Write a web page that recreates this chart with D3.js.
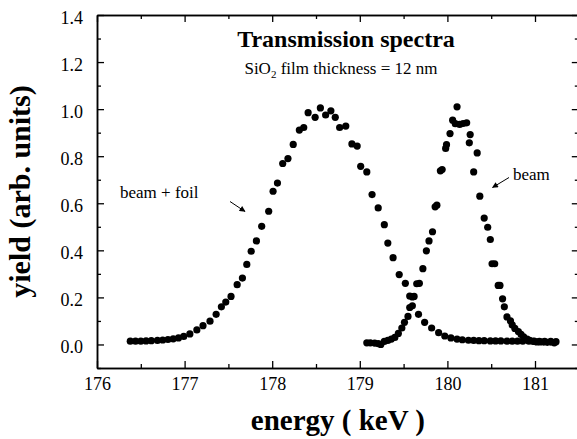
<!DOCTYPE html>
<html>
<head>
<meta charset="utf-8">
<script src="https://cdn.jsdelivr.net/npm/d3@7"></script>
<style>
  html, body { margin: 0; padding: 0; background: #fff; }
  svg { display: block; }
  text { font-family: "Liberation Serif", "Tinos", "Times New Roman", Times, "Nimbus Roman", "FreeSerif", "DejaVu Serif", "Noto Serif", serif; fill: #000; }
</style>
</head>
<body>
<svg id="chart" width="577" height="439"></svg>
<script>
// ---- data ----
const foilEnergy = [176.38,176.44,176.50,176.56,176.62,176.69,176.75,176.81,176.87,176.93,
  176.99,177.06,177.14,177.21,177.29,177.36,177.42,177.47,177.53,177.60,
  177.66,177.71,177.76,177.82,177.88,177.96,178.01,178.06,178.12,178.18,
  178.24,178.31,178.36,178.41,178.49,178.55,178.61,178.67,178.72,178.77,
  178.84,178.91,178.97,179.01,179.08,179.14,179.21,179.28,179.32,179.38,
  179.45,179.52,179.57,179.60,179.67,179.74,179.82,179.90,179.97,180.04,
  180.11,180.17,180.24,180.30,180.36,180.42,180.49,180.55,180.61,180.68,
  180.74,180.80,180.86,180.93,180.99,181.05,181.11,181.18,181.24];
const foilYield = [0.014,0.014,0.014,0.015,0.016,0.017,0.019,0.021,0.024,0.028,
  0.034,0.045,0.062,0.080,0.099,0.128,0.160,0.180,0.204,0.254,
  0.282,0.340,0.396,0.440,0.502,0.566,0.651,0.686,0.769,0.790,
  0.850,0.911,0.922,0.985,0.965,1.005,0.975,0.993,0.965,0.922,
  0.928,0.852,0.843,0.757,0.733,0.637,0.580,0.509,0.431,0.369,
  0.297,0.260,0.206,0.164,0.128,0.094,0.070,0.050,0.036,0.028,
  0.023,0.020,0.018,0.017,0.016,0.016,0.015,0.015,0.015,0.014,
  0.014,0.014,0.014,0.014,0.014,0.013,0.013,0.013,0.012];

const beamEnergy = [179.08,179.12,179.17,179.21,179.24,179.28,179.32,179.36,179.40,179.44,
  179.48,179.51,179.55,179.57,179.60,179.62,179.65,179.68,179.72,179.76,
  179.79,179.83,179.86,179.88,179.92,179.94,179.98,179.99,180.03,180.06,
  180.09,180.11,180.14,180.18,180.22,180.25,180.26,180.30,180.34,180.37,
  180.42,180.46,180.49,180.51,180.54,180.58,180.60,180.63,180.65,180.68,
  180.72,180.74,180.77,180.81,180.84,180.87,180.91,180.94,180.98,181.02,
  181.06,181.10,181.14,181.18,181.22];
const beamYield = [0.007,0.007,0.006,0.004,0.000,0.013,0.017,0.023,0.030,0.047,
  0.070,0.094,0.119,0.157,0.202,0.204,0.258,0.260,0.322,0.398,
  0.440,0.479,0.585,0.592,0.738,0.743,0.833,0.849,0.896,0.953,
  0.938,1.010,0.935,0.939,0.942,0.857,0.892,0.733,0.814,0.630,
  0.537,0.498,0.446,0.343,0.343,0.251,0.251,0.194,0.160,0.117,
  0.100,0.083,0.068,0.055,0.043,0.032,0.023,0.017,0.013,0.011,
  0.011,0.010,0.009,0.010,0.007];

const xMajorTicks = [176,177,178,179,180,181];
const xMinorTicks = [176.5,177.5,178.5,179.5,180.5,181.5];
const yMajorTicks = [0.0,0.2,0.4,0.6,0.8,1.0,1.2,1.4];
const yMinorTicks = [-0.1,0.1,0.3,0.5,0.7,0.9,1.1,1.3];

const titleText = "Transmission spectra";
const xLabel = "energy ( keV )";
const yLabel = "yield (arb. units)";

// ---- layout ----
const FONT = '"Liberation Serif", "Tinos", "Times New Roman", Times, "Nimbus Roman", "FreeSerif", "DejaVu Serif", "Noto Serif", serif';
const svg = d3.select("#chart");
const mLeft = 97, mRight = 578.8, mTop = 15, mBottom = 368;

const x = d3.scaleLinear().domain([176, 181.5]).range([mLeft, mRight]);
const y = d3.scaleLinear().domain([-0.1, 1.4]).range([mBottom, mTop]);

const axisStyle = g => {
  g.attr("font-family", FONT);
  g.select(".domain").attr("stroke", "#000").attr("stroke-width", 1.5);
  g.selectAll(".tick line").attr("stroke", "#000").attr("stroke-width", 1.3);
  g.selectAll("text").attr("font-size", 18).attr("font-family", FONT);
};

// bottom
svg.append("g").attr("transform", `translate(0,${mBottom})`)
  .call(d3.axisBottom(x).tickValues(xMajorTicks).tickFormat(d3.format("d")).tickSize(-7).tickSizeOuter(0).tickPadding(9))
  .call(axisStyle);
svg.append("g").attr("transform", `translate(0,${mBottom})`)
  .call(d3.axisBottom(x).tickValues(xMinorTicks).tickFormat("").tickSize(-4).tickSizeOuter(0))
  .call(axisStyle);
// top
svg.append("g").attr("transform", `translate(0,${mTop})`)
  .call(d3.axisTop(x).tickValues(xMajorTicks).tickFormat("").tickSize(-7).tickSizeOuter(0))
  .call(axisStyle);
svg.append("g").attr("transform", `translate(0,${mTop})`)
  .call(d3.axisTop(x).tickValues(xMinorTicks).tickFormat("").tickSize(-4).tickSizeOuter(0))
  .call(axisStyle);
// left
const gl = svg.append("g").attr("transform", `translate(${mLeft},0)`)
  .call(d3.axisLeft(y).tickValues(yMajorTicks).tickFormat(d3.format(".1f")).tickSize(-7).tickSizeOuter(0).tickPadding(14))
  .call(axisStyle);
gl.selectAll("text").attr("dy", "0.45em");
svg.append("g").attr("transform", `translate(${mLeft},0)`)
  .call(d3.axisLeft(y).tickValues(yMinorTicks).tickFormat("").tickSize(-4).tickSizeOuter(0))
  .call(axisStyle);
// right
svg.append("g").attr("transform", `translate(${mRight},0)`)
  .call(d3.axisRight(y).tickValues(yMajorTicks).tickFormat("").tickSize(-7).tickSizeOuter(0))
  .call(axisStyle);
svg.append("g").attr("transform", `translate(${mRight},0)`)
  .call(d3.axisRight(y).tickValues(yMinorTicks).tickFormat("").tickSize(-4).tickSizeOuter(0))
  .call(axisStyle);

// ---- data points ----
const r = 3.6;
svg.append("g").selectAll("circle.foil")
  .data(d3.zip(foilEnergy, foilYield)).join("circle")
  .attr("class", "foil")
  .attr("cx", d => x(d[0])).attr("cy", d => y(d[1])).attr("r", r).attr("fill", "#000");
svg.append("g").selectAll("circle.beam")
  .data(d3.zip(beamEnergy, beamYield)).join("circle")
  .attr("class", "beam")
  .attr("cx", d => x(d[0])).attr("cy", d => y(d[1])).attr("r", r).attr("fill", "#000");

// ---- titles ----
svg.append("text").attr("x", 346).attr("y", 47).attr("text-anchor", "middle")
  .attr("font-family", FONT).attr("font-size", 24).attr("font-weight", "bold").text(titleText);

const sub = svg.append("text").attr("x", 341).attr("y", 74).attr("text-anchor", "middle")
  .attr("font-family", FONT).attr("font-size", 17);
sub.append("tspan").text("SiO");
sub.append("tspan").attr("font-size", 11).attr("dy", 4).text("2");
sub.append("tspan").attr("dy", -4).text(" film thickness = 12 nm");

svg.append("text").attr("x", (mLeft + mRight) / 2).attr("y", 430).attr("text-anchor", "middle")
  .attr("font-family", FONT).attr("font-size", 29).attr("font-weight", "bold").text(xLabel);

svg.append("text").attr("transform", `translate(30,${(mTop + mBottom) / 2}) rotate(-90)`)
  .attr("text-anchor", "middle").attr("font-family", FONT).attr("font-size", 30).attr("font-weight", "bold").text(yLabel);

// ---- annotations ----
const defs = svg.append("defs");
defs.append("marker").attr("id", "ah").attr("viewBox", "0 0 10 10")
  .attr("refX", 9).attr("refY", 5).attr("markerWidth", 7).attr("markerHeight", 6)
  .attr("orient", "auto").attr("markerUnits", "userSpaceOnUse")
  .append("path").attr("d", "M0,0 L10,5 L0,10 z").attr("fill", "#000");

svg.append("text").attr("x", 120).attr("y", 198).attr("font-family", FONT).attr("font-size", 17).text("beam + foil");
svg.append("line").attr("x1", 230).attr("y1", 201.5).attr("x2", 245).attr("y2", 211.5)
  .attr("stroke", "#000").attr("stroke-width", 1).attr("marker-end", "url(#ah)");

svg.append("text").attr("x", 513).attr("y", 180).attr("font-family", FONT).attr("font-size", 17).text("beam");
svg.append("line").attr("x1", 509).attr("y1", 177.5).attr("x2", 492.5).attr("y2", 187.5)
  .attr("stroke", "#000").attr("stroke-width", 1).attr("marker-end", "url(#ah)");
</script>
</body>
</html>
